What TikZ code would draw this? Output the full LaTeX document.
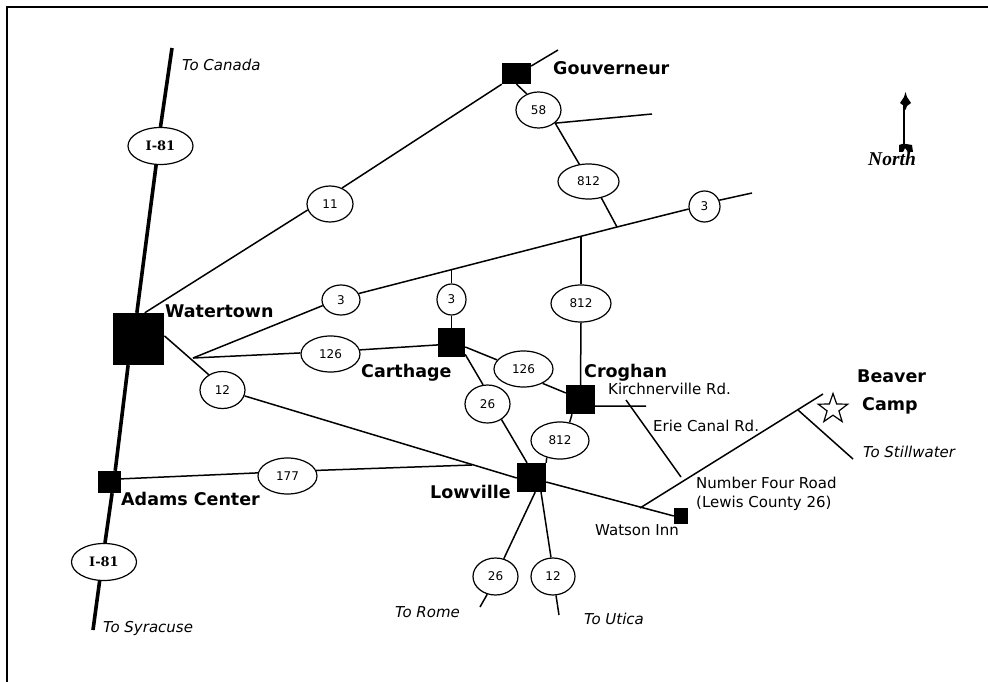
\documentclass[tikz,border=0pt]{standalone}
\usepackage{fontspec}
\setmainfont{DejaVu Sans}
\newfontfamily\serifroad{DejaVu Serif}
\newfontfamily\northfont{Liberation Serif}
\usetikzlibrary{shapes.geometric}
\tikzset{
  x=1pt,y=-1pt,
  road/.style={draw=black,line width=1.5pt},
  interstate/.style={draw=black,line width=3.6pt},
  shield/.style 2 args={draw=black,line width=1.2pt,ellipse,inner sep=0pt,minimum width=#1,minimum height=#2,font=\fontsize{12}{14}\selectfont},
  ishield/.style={shield={65pt}{37pt},font=\serifroad\fontsize{13}{15}\bfseries\selectfont},
  town/.style 2 args={fill=black,inner sep=0pt,minimum width=#1,minimum height=#2},
  big/.style={font=\fontsize{17.5}{20}\bfseries\selectfont,inner sep=0pt,anchor=base west},
  small/.style={font=\fontsize{15}{17}\selectfont,inner sep=0pt,anchor=base west},
  dir/.style={font=\fontsize{15}{17}\itshape\selectfont,inner sep=0pt,anchor=base west},
}
\begin{document}
\begin{tikzpicture}
\useasboundingbox (0,0) rectangle (988,682);
\draw[line width=1.5pt] (7,682) -- (7,7) -- (988,7);
% towns
\node[town={51pt}{52pt}] (wat) at (138.7,339) {};
\node[town={29pt}{21pt}] (gou) at (516.5,73.5) {};
\node[town={27pt}{29pt}] (car) at (451.5,342.5) {};
\node[town={29pt}{29pt}] (cro) at (580.5,399.5) {};
\node[town={29pt}{29pt}] (low) at (531.5,477.5) {};
\node[town={23pt}{22pt}] (ada) at (109.5,482) {};
\node[town={14pt}{16pt}] (inn) at (681,516) {};
% shields
\node[ishield] (s81a) at (160.5,146) {I-81};
\node[ishield] (s81b) at (104,562) {I-81};
\node[shield={46pt}{36pt}] (s11) at (330,204) {11};
\node[shield={45pt}{36pt}] (s58) at (538.5,110) {58};
\node[shield={61pt}{35pt}] (s812a) at (588.5,181.5) {812};
\node[shield={31pt}{31pt}] (s3a) at (704.5,206.5) {3};
\node[shield={38pt}{30pt}] (s3b) at (341,300) {3};
\node[shield={29pt}{31pt}] (s3c) at (451.5,299.5) {3};
\node[shield={60pt}{37pt}] (s812b) at (581,303.5) {812};
\node[shield={59pt}{36pt}] (s126a) at (330.5,354) {126};
\node[shield={59pt}{36pt}] (s126b) at (523.5,369) {126};
\node[shield={45pt}{37pt}] (s12a) at (222.5,390) {12};
\node[shield={45pt}{38pt}] (s26a) at (487.5,404) {26};
\node[shield={58pt}{37pt}] (s812c) at (560,440.5) {812};
\node[shield={59pt}{36pt}] (s177) at (287.5,476) {177};
\node[shield={45pt}{37pt}] (s26b) at (495.5,576.5) {26};
\node[shield={44pt}{37pt}] (s12b) at (553,576.5) {12};
% star
\node[star,star points=5,star point ratio=2.5,draw=black,line width=1.2pt,inner sep=0pt,minimum size=31pt] (camp) at (833,409) {};
% free road ends and junctions
\coordinate (cn) at (172,48);
\coordinate (sy) at (93,630);
\coordinate (gt) at (558,50);
\coordinate (b1e) at (652,114);
\coordinate (j3) at (617,227);
\coordinate (e3) at (752,193);
\coordinate (j4) at (581,237);
\coordinate (j5) at (451.5,270);
\coordinate (w2) at (193,358);
\coordinate (k1) at (646,406);
\coordinate (k2) at (626,400);
\coordinate (e1) at (681,477);
\coordinate (n1) at (640,508);
\coordinate (n2) at (823,394);
\coordinate (s1) at (798,410);
\coordinate (s2) at (853,459);
\coordinate (a1) at (472,465);
\coordinate (ro) at (480,607);
\coordinate (ut) at (559,615);
% interstate
\draw[interstate] (cn) -- (s81a.north);
\draw[interstate] (s81a.257) -- (wat.94);
\draw[interstate] (wat.248) -- (ada.63);
\draw[interstate] (ada.-77) -- (s81b.87);
\draw[interstate] (s81b.257) -- (sy);
% roads
\draw[road] (wat.77) -- (s11.195);
\draw[road] (s11.53) -- (gou.216);
\draw[road] (gou.27) -- (gt);
\draw[road] (gou.south) -- (s58.126);
\draw[road] (s58.-38) -- (s812a.118);
\draw[road] (s58.-39) -- (b1e);
\draw[road] (s812a.-52) -- (j3);
\draw[road] (w2) -- (s3b.197);
\draw[road] (s3b.20) -- (j3) -- (s3a.189);
\draw[road] (s3a.23) -- (e3);
\draw[road] (j5) -- (s3c.north);
\draw[road] (s3c.south) -- (car.north);
\draw[road] (j4) -- (s812b.north);
\draw[road] (s812b.south) -- (cro.north);
\draw[road] (w2) -- (s126a.178);
\draw[road] (s126a.8) -- (car.190);
\draw[road] (car.-18) -- (s126b.161);
\draw[road] (s126b.-37) -- (cro.156);
\draw[road] (car.-41) -- (s26a.103);
\draw[road] (s26a.-48) -- (low.107);
\draw[road] (cro.240) -- (s812c.62);
\draw[road] (s812c.232) -- (low.45);
\draw[road] (wat.7) -- (s12a.132);
\draw[road] (s12a.-15) -- (low.182);
\draw[road] (low.-17) -- (inn.west);
\draw[road] (cro.-24) -- (k1);
\draw[road] (k2) -- (e1);
\draw[road] (n1) -- (n2);
\draw[road] (s1) -- (s2);
\draw[road] (ada.15) -- (s177.174);
\draw[road] (s177.11) -- (a1);
\draw[road] (low.-76) -- (s26b.65);
\draw[road] (s26b.245) -- (ro);
\draw[road] (low.-57) -- (s12b.96);
\draw[road] (s12b.-81) -- (ut);
% labels
\node[big] (lwat) at (165,317) {Watertown};
\node[big] (lgou) at (553,75) {Gouverneur};
\node[big] (lcar) at (361,377) {Carthage};
\node[big] (lcro) at (584,377) {Croghan};
\node[big] (llow) at (430,498) {Lowville};
\node[big] (lada) at (121,505) {Adams Center};
\node[big] (lb1) at (857,382) {Beaver};
\node[big] (lb2) at (862,410) {Camp};
\node[small] (lk) at (608,394) {Kirchnerville Rd.};
\node[small] (le) at (653,431) {Erie Canal Rd.};
\node[small] (ln1) at (696,488) {Number Four Road};
\node[small] (ln2) at (696,507) {(Lewis County 26)};
\node[small] (lw) at (595,535) {Watson Inn};
\node[dir] (tc) at (182,71) {To Canada};
\node[dir] (ts) at (103,632) {To Syracuse};
\node[dir] (tr) at (395,617) {To Rome};
\node[dir] (tu) at (584,624) {To Utica};
\node[dir] (tw) at (863,457) {To Stillwater};
% north arrow
\coordinate (na) at (904,100);
\coordinate (nb) at (904,148);
\draw[line width=1.5pt] (na) -- (nb);
\fill (905.5,92) -- (907,97) -- (911,103) -- (907,106) -- (905.5,110) -- (904,106) -- (900,103) -- (904,97) -- cycle;
\fill (899,145) -- (902,144) -- (906,144) -- (912,145) -- (913,152) -- (908,152) -- (905,148) -- (903,152) -- (899,152) -- cycle;
\node[font=\northfont\fontsize{19.5}{21}\itshape\bfseries\selectfont,inner sep=0pt,anchor=base west] (nt) at (868,166) {North};
\end{tikzpicture}
\end{document}
